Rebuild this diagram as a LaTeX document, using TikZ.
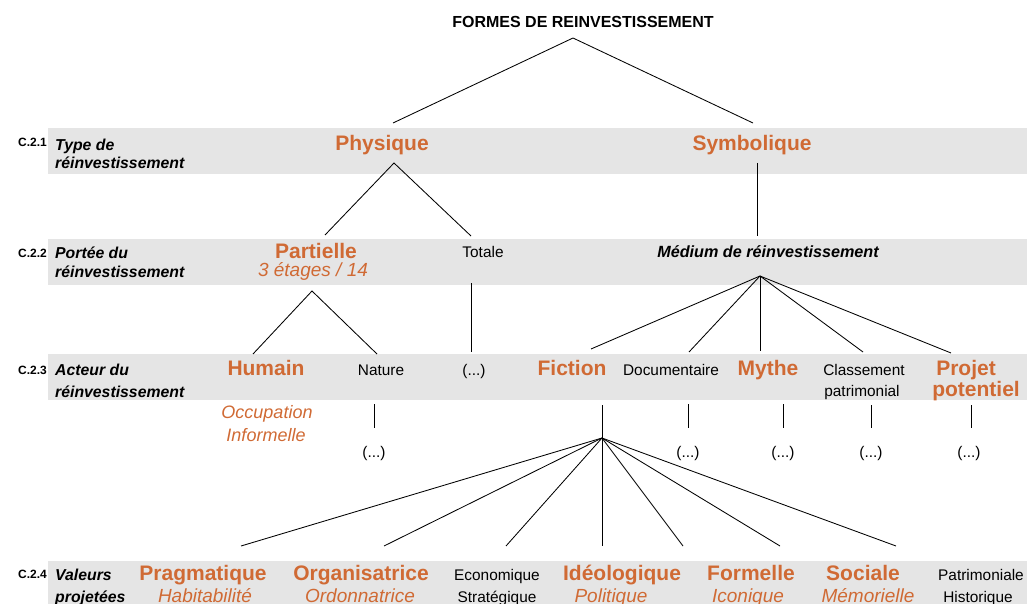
\documentclass[tikz,border=0pt]{standalone}
\usepackage{fontspec}
\setmainfont{Liberation Sans}
\definecolor{orng}{RGB}{208,106,52}
\definecolor{band}{RGB}{229,229,229}
\begin{document}
\begin{tikzpicture}[x=1pt,y=-1pt,
  every node/.style={inner sep=0pt, anchor=base},
  big/.style={font=\bfseries\fontsize{21}{24}\selectfont, text=orng},
  sub/.style={font=\itshape\fontsize{19}{22}\selectfont, text=orng},
  small/.style={font=\fontsize{15.4}{18}\selectfont},
  lab/.style={font=\bfseries\itshape\fontsize{15.8}{18}\selectfont, anchor=base west},
  code/.style={font=\bfseries\fontsize{12}{14}\selectfont, anchor=base west},
  ttl/.style={font=\bfseries\fontsize{16}{18}\selectfont},
  link/.style={draw=black, line width=0.85pt}]
\useasboundingbox (0,0) rectangle (1027,604);
% bands
\fill[band] (48,128) rectangle (1027,174);
\fill[band] (48,239) rectangle (1027,285);
\fill[band] (48,354) rectangle (1027,400);
\fill[band] (48,561) rectangle (1027,604);
% left labels
\node[code] (c1) at (18,147) {C.2.1};
\node[lab] (l1a) at (55,151) {Type de};
\node[lab] (l1b) at (55,169) {réinvestissement};
\node[code] (c2) at (18,257) {C.2.2};
\node[lab] (l2a) at (55,258) {Portée du};
\node[lab] (l2b) at (55,277) {réinvestissement};
\node[code] (c3) at (18,374) {C.2.3};
\node[lab] (l3a) at (55,375) {Acteur du};
\node[lab] (l3b) at (55,397) {réinvestissement};
\node[code] (c4) at (18,578) {C.2.4};
\node[lab] (l4a) at (55,580) {Valeurs};
\node[lab] (l4b) at (55,602) {projetées};
% title
\node[ttl] (title) at (583,28) {FORMES DE REINVESTISSEMENT};
% row 1
\node[big] (phys) at (382,151) {Physique};
\node[big] (symb) at (752,151) {Symbolique};
% row 2
\node[big] (part) at (316,258) {Partielle};
\node[sub] (parts) at (313,276) {3 étages / 14};
\node[small] (tot) at (483,257) {Totale};
\node[font=\bfseries\itshape\fontsize{16.2}{18}\selectfont] (med) at (768,257) {Médium de réinvestissement};
% row 3
\node[big] (hum) at (266,375) {Humain};
\node[small] (nat) at (381,375) {Nature};
\node[small] (tot3) at (474,375) {(...)};
\node[big] (fic) at (572,375) {Fiction};
\node[small] (doc) at (671,375) {Documentaire};
\node[big] (myt) at (768,375) {Mythe};
\node[small] (cla) at (864,375) {Classement};
\node[small] (clb) at (862,396) {patrimonial};
\node[big] (proa) at (966,375) {Projet};
\node[big] (prob) at (976,396) {potentiel};
\node[sub, font=\itshape\fontsize{18}{21}\selectfont] (occa) at (267,418) {Occupation};
\node[sub, font=\itshape\fontsize{18}{21}\selectfont] (occb) at (266,441) {Informelle};
% ellipses
\node[small] (e1) at (374,457) {(...)};
\node[small] (e2) at (688,457) {(...)};
\node[small] (e3) at (783,457) {(...)};
\node[small] (e4) at (871,457) {(...)};
\node[small] (e5) at (969,457) {(...)};
% row 4
\node[big] (v1) at (203,580) {Pragmatique};
\node[sub] (v1s) at (205,602) {Habitabilité};
\node[big] (v2) at (361,580) {Organisatrice};
\node[sub] (v2s) at (360,602) {Ordonnatrice};
\node[small] (v3) at (497,580) {Economique};
\node[small] (v3s) at (497,602) {Stratégique};
\node[big] (v4) at (622,580) {Idéologique};
\node[sub] (v4s) at (611,602) {Politique};
\node[big] (v5) at (751,580) {Formelle};
\node[sub] (v5s) at (748,602) {Iconique};
\node[big] (v6) at (863,580) {Sociale};
\node[sub] (v6s) at (868,602) {Mémorielle};
\node[small] (v7) at (981,580) {Patrimoniale};
\node[small] (v7s) at (978,602) {Historique};
% connector points
\coordinate (tA) at (573,38);
\coordinate (phT) at (393,123);
\coordinate (syT) at (753,123);
\coordinate (phA) at (394,163);
\coordinate (paT) at (325,235);
\coordinate (toT) at (471,236);
\coordinate (syB) at (757,163);
\coordinate (meT) at (757,236);
\coordinate (paA) at (312,291);
\coordinate (huT) at (253,354);
\coordinate (naT) at (377,354);
\coordinate (toB) at (471,283);
\coordinate (t3T) at (471,352);
\coordinate (meA) at (760,276);
\coordinate (fiT) at (591,349);
\coordinate (doT) at (689,352);
\coordinate (myT) at (760,351);
\coordinate (clT) at (863,352);
\coordinate (prT) at (951,353);
\coordinate (fiB) at (602,405);
\coordinate (fiA) at (602,438);
\coordinate (naB) at (374,404);
\coordinate (naE) at (374,428);
\coordinate (doB) at (688,404);
\coordinate (doE) at (688,428);
\coordinate (myB) at (783,404);
\coordinate (myE) at (783,428);
\coordinate (clB) at (871,405);
\coordinate (clE) at (871,428);
\coordinate (prB) at (971,405);
\coordinate (prE) at (971,428);
\coordinate (w1) at (241,546);
\coordinate (w2) at (384,546);
\coordinate (w3) at (506,546);
\coordinate (w4) at (602,546);
\coordinate (w5) at (683,546);
\coordinate (w6) at (780,546);
\coordinate (w7) at (896,546);
% connectors
\draw[link] (phT) -- (tA) -- (syT);
\draw[link] (paT) -- (phA) -- (toT);
\draw[link] (syB) -- (meT);
\draw[link] (huT) -- (paA) -- (naT);
\draw[link] (toB) -- (t3T);
\foreach \e in {fiT,doT,myT,clT,prT} \draw[link] (meA) -- (\e);
\draw[link] (fiB) -- (fiA);
\foreach \e in {w1,w2,w3,w4,w5,w6,w7} \draw[link] (fiA) -- (\e);
\draw[link] (naB) -- (naE);
\draw[link] (doB) -- (doE);
\draw[link] (myB) -- (myE);
\draw[link] (clB) -- (clE);
\draw[link] (prB) -- (prE);
\end{tikzpicture}
\end{document}
